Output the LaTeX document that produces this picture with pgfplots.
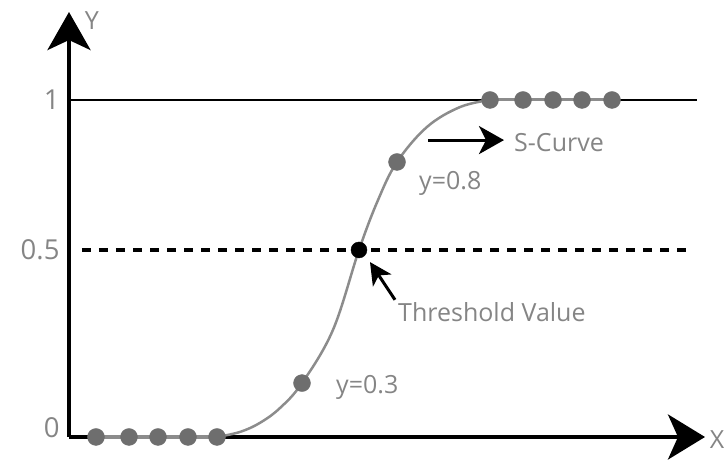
\documentclass[border=0pt]{standalone}
\usepackage{fontspec}
\setmainfont{Open Sans}
\usepackage{pgfplots}
\pgfplotsset{compat=1.18}
\usetikzlibrary{arrows.meta}
\definecolor{txtgray}{HTML}{858585}
\definecolor{dotgray}{HTML}{6E6E6E}
\definecolor{curvegray}{HTML}{8C8C8C}
\newcommand{\lbl}{\fontsize{25bp}{30bp}\selectfont}
\newcommand{\tlbl}{\fontsize{27.5bp}{32bp}\selectfont}
\begin{document}
\begin{tikzpicture}
\begin{axis}[
 x=1bp, y=337bp,
 xmin=0, xmax=636, ymin=0, ymax=1.261,
 axis lines=left,
 axis line style={line width=4bp},
 x axis line style={-{Stealth[length=37bp,width=45bp,inset=10bp]}},
 y axis line style={-{Stealth[length=38bp,width=43bp,inset=10bp]}},
 xtick=\empty,
 ytick={0.555,1}, yticklabels={0.5,1},
 extra y ticks={0}, extra y tick labels={0},
 extra y tick style={yticklabel style={yshift=9bp}},
 major tick length=0pt,
 tick label style={font=\tlbl, text=txtgray},
 yticklabel style={xshift=-6bp},
 /pgf/number format/assume math mode=true,
 clip=false,
]
% reference lines
\addplot[black, line width=2.5bp] coordinates {(0,1) (628,1)};
\addplot[black, line width=3.5bp, dash pattern=on 9bp off 8bp] coordinates {(13,0.555) (617,0.555)};
% S-curve
\addplot[curvegray, line width=2.5bp, smooth, tension=0.6] coordinates {
 (148,0) (171,0.015) (191,0.042) (211,0.086) (233,0.160) (264,0.318)
 (290,0.555) (309,0.703) (328,0.816) (358,0.920) (391,0.979) (421,1)};
\addplot[curvegray, line width=4bp] coordinates {(27,0) (148,0)};
\addplot[curvegray, line width=3bp] coordinates {(421,1) (543,1)};
% points
\addplot[only marks, mark=*, mark size=8.5bp, dotgray, mark options={draw=none}] coordinates {
 (27,0) (60,0) (89,0) (119,0) (148,0)
 (233,0.160) (328,0.816)
 (421,1) (454,1) (484,1) (513,1) (543,1)};
\addplot[only marks, mark=*, mark size=8bp, black] coordinates {(290,0.555)};
% annotations
\draw[line width=3bp, -{Stealth[length=25bp,width=28bp,inset=7bp]}] (axis cs:359,0.881) -- (axis cs:435,0.881);
\draw[line width=3bp, -{Stealth[length=22bp,width=22bp,inset=6bp]}] (axis cs:326,0.407) -- (axis cs:301,0.519);
\node[anchor=west, text=txtgray, font=\lbl, inner sep=0pt] at (axis cs:445,0.875) {S-Curve};
\node[anchor=west, text=txtgray, font=\lbl, inner sep=0pt] at (axis cs:350,0.751) {y=0.8};
\node[anchor=west, text=txtgray, font=\lbl, inner sep=0pt] at (axis cs:267,0.148) {y=0.3};
\node[anchor=west, text=txtgray, font=\lbl, inner sep=0pt] at (axis cs:329,0.371) {Threshold Value};
\node[text=txtgray, font=\lbl, inner sep=0pt] at (axis cs:23,1.237) {Y};
\node[text=txtgray, font=\lbl, inner sep=0pt] at (axis cs:648,-0.009) {X};
\path (axis cs:-69,-0.0742) rectangle (axis cs:656,1.2967);
\end{axis}
\end{tikzpicture}
\end{document}
